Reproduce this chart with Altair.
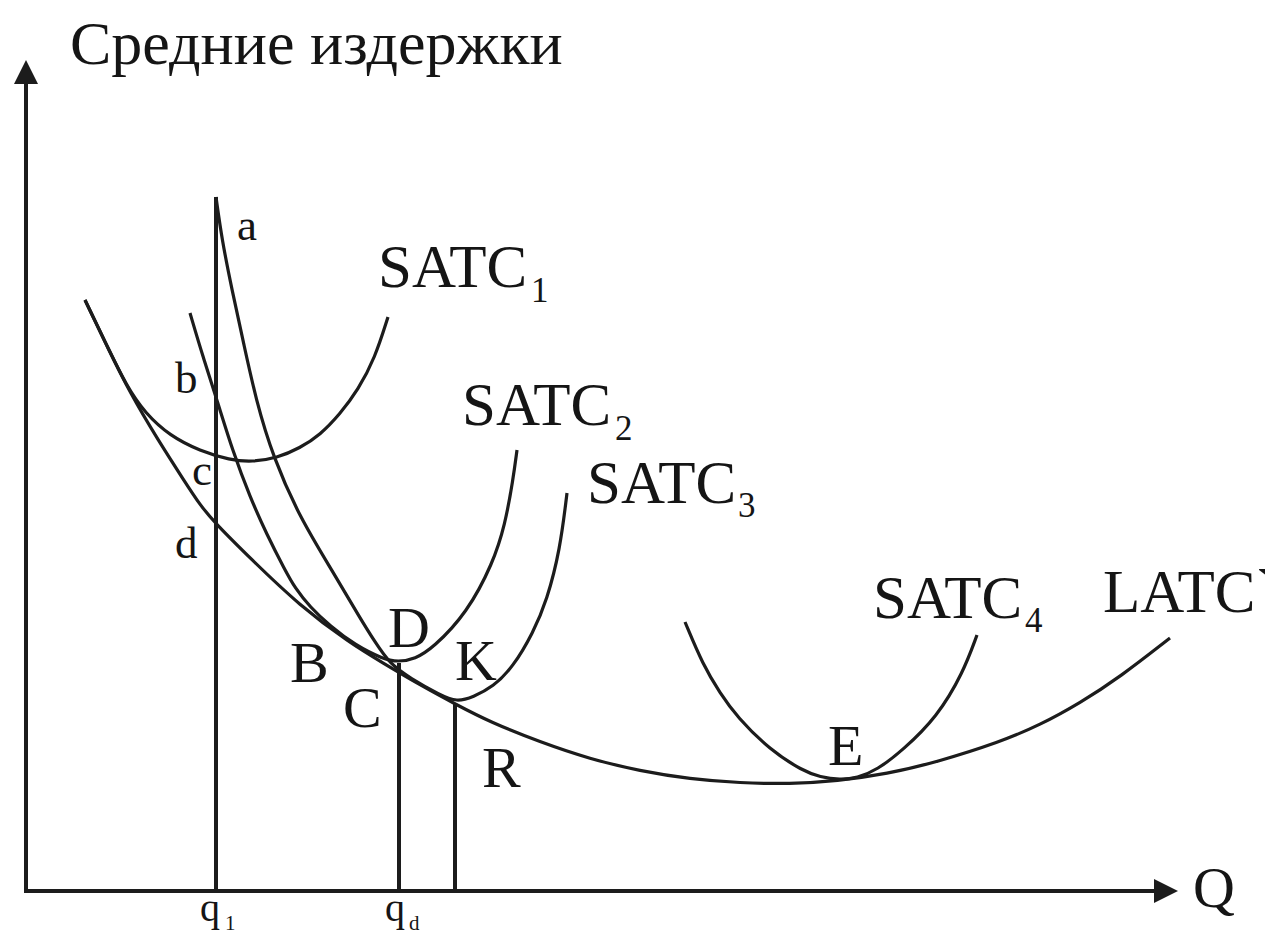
import altair as alt
import pandas as pd

# ---- curves (Q = output, C = average cost) ----
latc_q = [5.9, 8.2, 10.4, 13.2, 15.9, 17.4, 18.9, 22.4, 27.4, 32.4, 35.7, 39.4, 43.1, 46.4, 51.4, 56.4,
          61.4, 66.4, 71.4, 76.4, 81.1, 86.1, 91.1, 97.4, 101.4, 105.4, 109.4, 114.4]
latc_c = [59.1, 54.3, 49.8, 45.1, 40.9, 38.6, 36.8, 33.3, 28.5, 24.8, 22.8, 20.6, 18.6, 16.9, 14.9, 13.2,
          12.0, 11.2, 10.8, 10.7, 11.0, 11.7, 12.9, 14.9, 16.6, 18.8, 21.4, 25.3]

satc1_q = [5.9, 7.9, 10.1, 11.9, 14.4, 17.4, 20.4, 22.6, 25.1, 27.4, 29.4, 31.4, 33.2, 34.9, 36.2]
satc1_c = [59.1, 54.9, 50.4, 47.8, 45.5, 44.0, 43.1, 42.9, 43.3, 44.3, 45.6, 47.7, 50.1, 53.3, 57.4]

satc2_q = [16.4, 17.7, 19.1, 20.7, 22.4, 24.1, 25.9, 26.9, 28.4, 30.4, 32.9, 35.7, 37.2, 38.9, 40.7,
           44.1, 46.7, 47.9, 48.7, 49.1]
satc2_c = [57.8, 53.4, 49.1, 43.9, 39.4, 35.6, 32.1, 30.3, 28.4, 26.5, 24.6, 23.2, 22.9, 23.2, 24.3,
           27.8, 32.8, 36.6, 41.1, 44.1]

satc3_q = [19.0, 19.6, 20.6, 21.8, 23.0, 24.7, 27.4, 30.7, 33.4, 34.9, 36.4, 38.4, 41.4, 43.1, 44.7,
           46.7, 48.7, 50.7, 52.1, 53.4, 54.1]
satc3_c = [69.4, 65.1, 60.1, 54.6, 49.1, 43.4, 37.3, 31.9, 27.3, 24.9, 22.7, 21.3, 19.6, 18.9, 19.4,
           20.4, 22.4, 25.8, 29.1, 34.1, 39.8]

satc4_q = [65.9, 67.7, 69.4, 71.1, 74.4, 77.7, 79.4, 81.4, 83.1, 85.1, 87.7, 91.1, 93.7, 95.1]
satc4_c = [26.9, 22.6, 19.8, 17.4, 14.1, 12.0, 11.4, 11.1, 11.3, 12.1, 14.1, 17.4, 21.8, 25.6]

# vertical drop lines at q1, qd and the third output level
q_line_q = [19.0, 37.3, 42.9]
q_line_top = [69.4, 22.8, 18.8]

# axes: origin, end of cost axis, end of quantity axis
axis_top_c = 81.9
axis_right_q = 114.0

# ---- labels ----
title_text = ["Средние издержки"]
title_q = [4.4]
title_c = [82.7]

satc_text = ["SATC", "SATC", "SATC", "SATC", "LATC`"]
satc_q = [35.2, 43.6, 56.1, 84.7, 107.7]
satc_c = [60.4, 46.6, 38.8, 27.3, 27.9]

point_text = ["B", "C", "D", "K", "R", "E", "Q"]
point_q = [26.4, 31.7, 36.2, 42.9, 45.6, 80.2, 116.7]
point_c = [20.9, 16.4, 24.4, 21.1, 10.4, 12.6, -1.6]

sub_text = ["1", "2", "3", "4"]
sub_q = [50.5, 58.9, 71.2, 99.9]
sub_c = [58.9, 45.1, 37.4, 25.9]

small_text = ["a", "b", "c", "d"]
small_q = [21.1, 14.9, 16.6, 14.9]
small_c = [65.1, 49.8, 40.6, 33.3]

tick_text = ["q", "q"]
tick_q = [17.4, 35.9]
tick_c = [-3.0, -3.0]
tick_sub_text = ["1", "d"]
tick_sub_q = [19.9, 38.3]
tick_sub_c = [-3.9, -3.9]

# ---- build tables ----
rows = []
for name, qs, cs in [("LATC", latc_q, latc_c), ("SATC1", satc1_q, satc1_c),
                     ("SATC2", satc2_q, satc2_c), ("SATC3", satc3_q, satc3_c),
                     ("SATC4", satc4_q, satc4_c)]:
    for i, (q, c) in enumerate(zip(qs, cs)):
        rows.append({"curve": name, "Q": q, "C": c, "i": i})
curves_df = pd.DataFrame(rows)

INK = "#1c1c1c"
FONT = "Liberation Serif"

xs = alt.Scale(domain=[-1.8, 123.9], nice=False, zero=False)
ys = alt.Scale(domain=[-4.4, 88.3], nice=False, zero=False)

def X(f="Q"):
    return alt.X(f"{f}:Q", scale=xs, axis=None)

def Y(f="C"):
    return alt.Y(f"{f}:Q", scale=ys, axis=None)

curves = alt.Chart(curves_df).mark_line(
    interpolate="basis", strokeWidth=3.2, color=INK
).encode(x=X(), y=Y(), detail="curve:N", order="i:Q")

drops_df = pd.DataFrame({"Q": q_line_q, "C0": [0.0] * len(q_line_q), "C1": q_line_top})
drops = alt.Chart(drops_df).mark_rule(strokeWidth=4, color=INK).encode(
    x=X(), y=Y("C0"), y2="C1:Q"
)

yaxis_df = pd.DataFrame({"Q": [0.0], "C0": [0.0], "C1": [axis_top_c]})
yaxis = alt.Chart(yaxis_df).mark_rule(strokeWidth=4, color=INK, strokeCap="square").encode(
    x=X(), y=Y("C0"), y2="C1:Q"
)
xaxis_df = pd.DataFrame({"C": [0.0], "Q0": [0.0], "Q1": [axis_right_q]})
xaxis = alt.Chart(xaxis_df).mark_rule(strokeWidth=4, color=INK, strokeCap="square").encode(
    y=Y(), x=X("Q0"), x2="Q1:Q"
)

up_df = pd.DataFrame({"Q": [0.0], "C": [axis_top_c]})
up_arrow = alt.Chart(up_df).mark_point(
    shape="M0,-1L1,1L-1,1Z", filled=True, size=576, color=INK, opacity=1, strokeWidth=0
).encode(x=X(), y=Y())
right_df = pd.DataFrame({"Q": [axis_right_q], "C": [0.0]})
right_arrow = alt.Chart(right_df).mark_point(
    shape="M1,0L-1,-1L-1,1Z", filled=True, size=576, color=INK, opacity=1, strokeWidth=0
).encode(x=X(), y=Y())

def texts(t, q, c, size):
    df = pd.DataFrame({"t": t, "Q": q, "C": c})
    return alt.Chart(df).mark_text(
        align="left", baseline="alphabetic", font=FONT, fontSize=size, color="#151515"
    ).encode(x=X(), y=Y(), text="t:N")

layers = [
    curves, drops, yaxis, xaxis, up_arrow, right_arrow,
    texts(title_text, title_q, title_c, 62),
    texts(satc_text, satc_q, satc_c, 61),
    texts(point_text, point_q, point_c, 58),
    texts(sub_text, sub_q, sub_c, 35),
    texts(small_text, small_q, small_c, 45),
    texts(tick_text, tick_q, tick_c, 40),
    texts(tick_sub_text, tick_sub_q, tick_sub_c, 21),
]

chart = alt.layer(*layers).properties(
    width=1257, height=927, padding=0,
    autosize=alt.AutoSizeParams(type="none"),
    background="white",
).configure_view(strokeWidth=0)

chart.save("out.html", embed_options={"renderer": "svg", "actions": False})
